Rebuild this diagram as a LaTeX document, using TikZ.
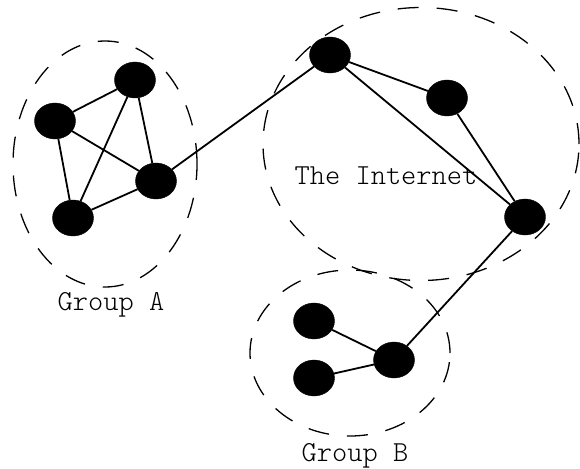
\documentclass[tikz,border=0pt]{standalone}
\usepackage{fontspec}
\setmonofont{Latin Modern Mono Light}
\usetikzlibrary{shapes.geometric}
\tikzset{
   host/.style={ellipse,fill=black,draw=black,inner sep=0pt,minimum width=41,minimum height=36},
   zone/.style={ellipse,draw=black,line width=1.3pt,dash pattern=on 21pt off 18pt,inner sep=0pt},
   link/.style={black,line width=1.8pt},
   caption/.style={font=\fontsize{29}{32}\ttfamily}
}
\begin{document}
\begin{tikzpicture}[x=1pt,y=-1pt]
   \useasboundingbox (0,0) rectangle (580,468);
   % the three dashed regions
   \node [zone,minimum width=184,minimum height=246] (groupA) at (105,164) {};
   \node [zone,minimum width=316,minimum height=273] (net) at (421,144) {};
   \node [zone,minimum width=200,minimum height=166] (groupB) at (350,353) {};
   % hosts
   \node [host] (a1) at (55,121) {};
   \node [host] (a2) at (135,80) {};
   \node [host] (a3) at (156,181) {};
   \node [host] (a4) at (73,218) {};
   \node [host] (r1) at (330,55) {};
   \node [host] (r2) at (447,98) {};
   \node [host] (r3) at (525,217) {};
   \node [host] (b1) at (314,321) {};
   \node [host] (b2) at (314,378) {};
   \node [host] (b3) at (394,360) {};
   % links
   \draw [link] (a1) -- (a2);
   \draw [link] (a1) -- (a3);
   \draw [link] (a1) -- (a4);
   \draw [link] (a2) -- (a3);
   \draw [link] (a2) -- (a4);
   \draw [link] (a3) -- (a4);
   \draw [link] (a3) -- (r1);
   \draw [link] (r1) -- (r2);
   \draw [link] (r1) -- (r3);
   \draw [link] (r2) -- (r3);
   \draw [link] (r3) -- (b3);
   \draw [link] (b1) -- (b3);
   \draw [link] (b2) -- (b3);
   % labels
   \node [caption] (netname) at (386,176) {The Internet};
   \node [caption] (nameA) at (111,305) {Group A};
   \node [caption] (nameB) at (355,456) {Group B};
\end{tikzpicture}
\end{document}
